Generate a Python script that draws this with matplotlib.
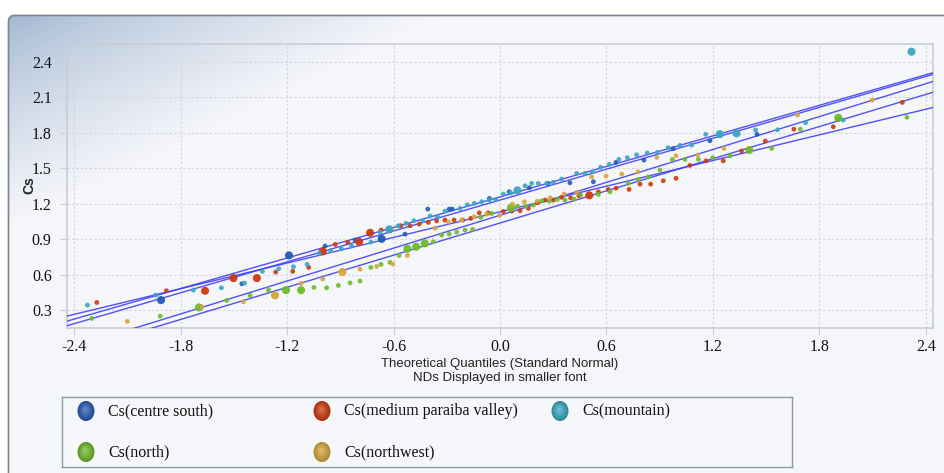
import numpy as np
import matplotlib
matplotlib.use("Agg")
import matplotlib.pyplot as plt
from matplotlib.patches import FancyBboxPatch, Ellipse
from matplotlib.colors import to_rgb

W, H, DPI = 945, 473, 100

# ---- series: theoretical quantile (z), concentration (y), detect flag (1 = detect, 0 = ND)
cs_z = [-1.91, -1.455, -1.189, -0.986, -0.817, -0.667, -0.535, -0.407, -0.286, -0.269,
        -0.06, 0.052, 0.165, 0.27, 0.394, 0.526, 0.654, 0.811, 0.976, 1.183, 1.448, 1.906]
cs_y = [0.384, 0.522, 0.762, 0.841, 0.892, 0.902, 0.942, 1.154, 1.154, 1.154,
        1.244, 1.30, 1.334, 1.371, 1.376, 1.385, 1.549, 1.568, 1.664, 1.732, 1.786, 1.91]
cs_d = [1, 0, 1, 0, 0, 1, 0, 0, 0, 0,
        0, 0, 0, 0, 0, 0, 0, 0, 0, 0, 0, 0]

mp_z = [-2.272, -1.88, -1.662, -1.502, -1.37, -1.264, -1.168, -1.078, -0.999, -0.928,
        -0.858, -0.794, -0.732, -0.670, -0.616, -0.559, -0.507, -0.455, -0.404, -0.357,
        -0.31, -0.259, -0.21, -0.165, -0.117, -0.066, 0.019, 0.066, 0.113, 0.16,
        0.21, 0.254, 0.30, 0.348, 0.398, 0.445, 0.503, 0.554, 0.61, 0.654,
        0.727, 0.789, 0.849, 0.920, 0.992, 1.07, 1.161, 1.258, 1.361, 1.495,
        1.656, 1.878, 2.267]
mp_y = [0.364, 0.463, 0.463, 0.570, 0.570, 0.621, 0.627, 0.660, 0.796, 0.855,
        0.872, 0.877, 0.953, 0.976, 0.976, 1.013, 1.013, 1.027, 1.041, 1.055,
        1.061, 1.061, 1.061, 1.075, 1.122, 1.122, 1.134, 1.137, 1.14, 1.16,
        1.207, 1.23, 1.23, 1.253, 1.249, 1.267, 1.27, 1.30, 1.32, 1.33,
        1.32, 1.365, 1.365, 1.393, 1.414, 1.523, 1.562, 1.562, 1.645, 1.729,
        1.83, 1.85, 2.056]
mp_d = [0, 0, 1, 1, 1, 0, 0, 0, 1, 0,
        0, 1, 1, 0, 0, 0, 0, 0, 0, 0,
        0, 0, 0, 0, 0, 0, 0, 0, 0, 0,
        0, 0, 0, 0, 0, 0, 1, 0, 0, 0,
        0, 0, 0, 0, 0, 0, 0, 0, 0, 0,
        0, 0, 0]

mt_z = [-2.325, -1.94, -1.728, -1.57, -1.44, -1.339, -1.247, -1.164, -1.087, -1.018,
        -0.954, -0.894, -0.836, -0.727, -0.676, -0.624, -0.573, -0.530, -0.485, -0.436,
        -0.394, -0.353, -0.31, -0.225, -0.184, -0.145, -0.103, -0.06, -0.024, 0.019,
        0.06, 0.098, 0.141, 0.178, 0.216, 0.263, 0.30, 0.348, 0.432, 0.479,
        0.52, 0.567, 0.616, 0.670, 0.717, 0.770, 0.830, 0.886, 0.948, 1.014,
        1.08, 1.159, 1.239, 1.333, 1.44, 1.564, 1.722, 1.934, 2.319]
mt_y = [0.342, 0.426, 0.468, 0.488, 0.528, 0.627, 0.649, 0.666, 0.686, 0.779,
        0.801, 0.818, 0.841, 0.875, 0.959, 0.982, 1.013, 1.033, 1.055, 1.055,
        1.095, 1.089, 1.137, 1.16, 1.19, 1.202, 1.216, 1.23, 1.236, 1.281,
        1.29, 1.312, 1.351, 1.371, 1.371, 1.371, 1.38, 1.408, 1.456, 1.456,
        1.469, 1.507, 1.532, 1.574, 1.588, 1.613, 1.628, 1.633, 1.673, 1.693,
        1.695, 1.786, 1.788, 1.794, 1.822, 1.825, 1.884, 1.907, 2.485]
mt_d = [0, 0, 0, 0, 0, 0, 0, 0, 0, 0,
        0, 0, 0, 0, 0, 1, 0, 0, 0, 0,
        0, 0, 0, 0, 0, 0, 0, 0, 0, 0,
        0, 1, 0, 0, 0, 0, 0, 0, 0, 0,
        0, 0, 0, 0, 0, 0, 0, 0, 0, 0,
        0, 0, 1, 1, 0, 0, 0, 0, 1]

no_z = [-2.30, -1.915, -1.696, -1.54, -1.408, -1.305, -1.206, -1.121, -1.048, -0.977,
        -0.911, -0.845, -0.789, -0.728, -0.670, -0.620, -0.569, -0.522, -0.473, -0.424,
        -0.376, -0.329, -0.286, -0.244, -0.197, -0.154, -0.109, -0.047, 0.062, 0.098,
        0.146, 0.188, 0.235, 0.278, 0.323, 0.366, 0.417, 0.455, 0.554, 0.62,
        0.723, 0.779, 0.836, 0.901, 0.971, 1.042, 1.118, 1.199, 1.296, 1.405,
        1.531, 1.692, 1.906, 2.293]
no_y = [0.229, 0.249, 0.322, 0.381, 0.424, 0.468, 0.468, 0.468, 0.491, 0.488,
        0.508, 0.530, 0.545, 0.660, 0.686, 0.703, 0.762, 0.818, 0.835, 0.864,
        0.877, 0.934, 0.942, 0.959, 0.976, 0.982, 1.084, 1.117, 1.165, 1.179,
        1.179, 1.188, 1.224, 1.221, 1.236, 1.23, 1.238, 1.272, 1.278, 1.30,
        1.371, 1.405, 1.427, 1.484, 1.574, 1.574, 1.574, 1.588, 1.605, 1.653,
        1.667, 1.83, 1.926, 1.93]
no_d = [0, 0, 1, 0, 0, 0, 1, 1, 0, 0,
        0, 0, 0, 0, 0, 0, 0, 1, 1, 1,
        0, 0, 0, 0, 0, 0, 0, 0, 1, 0,
        0, 0, 0, 0, 0, 0, 0, 0, 0, 0,
        0, 0, 0, 0, 0, 0, 0, 0, 0, 1,
        0, 0, 1, 0]

nw_z = [-2.10, -1.68, -1.446, -1.268, -1.121, -0.999, -0.888, -0.789, -0.695, -0.604,
        -0.522, -0.366, -0.291, -0.216, -0.145, -0.075, -0.004, 0.07, 0.137, 0.21,
        0.282, 0.361, 0.432, 0.516, 0.597, 0.686, 0.779, 0.883, 0.992, 1.114,
        1.262, 1.677, 2.097]
nw_y = [0.204, 0.327, 0.370, 0.424, 0.525, 0.562, 0.621, 0.646, 0.669, 0.689,
        0.762, 0.991, 1.044, 1.061, 1.089, 1.112, 1.10, 1.196, 1.216, 1.22,
        1.249, 1.281, 1.295, 1.427, 1.433, 1.45, 1.469, 1.591, 1.605, 1.611,
        1.667, 1.949, 2.076]
nw_d = [0, 0, 0, 1, 0, 0, 1, 0, 0, 0,
        0, 0, 0, 0, 0, 0, 0, 0, 0, 0,
        0, 0, 0, 0, 0, 0, 0, 0, 0, 0,
        0, 0, 0]

labels = ["Cs(centre south)", "Cs(medium paraiba valley)", "Cs(mountain)",
          "Cs(north)", "Cs(northwest)"]
colors = ["#2459b5", "#cc3a0c", "#3aa6c0", "#6cbb2a", "#d8a43c"]
# fitted normal reference lines: value = mean + sd * z
line_mean = [1.230, 1.131, 1.2565, 1.036, 1.1015]
line_sd = [0.4357, 0.3615, 0.4305, 0.4533, 0.4637]

series = [(cs_z, cs_y, cs_d), (mp_z, mp_y, mp_d), (mt_z, mt_y, mt_d),
          (no_z, no_y, no_d), (nw_z, nw_y, nw_d)]

x_ticks = [-2.4, -1.8, -1.2, -0.6, 0.0, 0.6, 1.2, 1.8, 2.4]
y_ticks = [0.3, 0.6, 0.9, 1.2, 1.5, 1.8, 2.1, 2.4]

fig = plt.figure(figsize=(W / DPI, H / DPI), dpi=DPI, facecolor="white")

# ---- panel background with soft corner gradient
bg = fig.add_axes([0, 0, 1, 1], zorder=-5)
bg.set_xlim(0, W)
bg.set_ylim(H, 0)
bg.axis("off")
yy, xx = np.mgrid[0:H, 0:W]
t = np.clip((xx - 8) / 430.0 + (yy - 15) / 210.0, 0, 1)
t = t ** 0.75
c0 = np.array([0x9f, 0xb5, 0xd0]) / 255.0
c1 = np.array([0xf5, 0xf6, 0xfa]) / 255.0
img = c0[None, None, :] * (1 - t[..., None]) + c1[None, None, :] * t[..., None]
panel = FancyBboxPatch((8.5, 15.5), 1000, 600,
                       boxstyle="round,pad=0,rounding_size=6",
                       facecolor="none", edgecolor="#7d848e", linewidth=1.2, zorder=3)
bg.add_patch(panel)
im = bg.imshow(img, extent=(0, W, H, 0), interpolation="bilinear", zorder=1)
im.set_clip_path(panel)

# ---- main plot
L, R, T, B = 67, 933, 44, 328
ax = fig.add_axes([L / W, 1 - B / H, (R - L) / W, (B - T) / H])
ax.patch.set_alpha(0)
ax.set_xlim(-2.44, 2.44)
ax.set_ylim(0.148, 2.55)
for s in ax.spines.values():
    s.set_color("#c9ccd3")
    s.set_linewidth(1.2)
ax.set_xticks(x_ticks)
ax.set_yticks(y_ticks)
ax.set_xticklabels([f"{v:.1f}" for v in x_ticks])
ax.set_yticklabels([f"{v:.1f}" for v in y_ticks])
ax.tick_params(axis="both", colors="#cfcfcf", length=5, width=0.8,
               labelcolor="#111111", labelsize=11.5)
for lab in ax.get_xticklabels() + ax.get_yticklabels():
    lab.set_fontfamily("Liberation Serif")
ax.tick_params(axis="x", pad=3)
ax.tick_params(axis="y", pad=6)
ax.grid(True, color="#d2d4d8", linestyle=(0, (2, 2)), linewidth=0.8)
ax.set_axisbelow(True)

zline = np.array([-2.44, 2.44])
for m, sd in zip(line_mean, line_sd):
    ax.plot(zline, m + sd * zline, color="#3f3fff", linewidth=1.0, alpha=0.9, zorder=3)

for (z, y, d), col in zip(series, colors):
    z = np.asarray(z)
    y = np.asarray(y)
    d = np.asarray(d, dtype=bool)
    ax.scatter(z[~d], y[~d], s=12, color=col, edgecolors="none", alpha=0.9, zorder=4)
    ax.scatter(z[d], y[d], s=34, color=col, edgecolors="none", alpha=0.95, zorder=4)

# axis titles
fig.text(29 / W, 1 - 185 / H, "Cs", rotation=90, ha="center", va="center",
         fontsize=10, fontweight="bold", family="Liberation Sans", color="#222222")
fig.text(500 / W, 1 - 364 / H, "Theoretical Quantiles (Standard Normal)",
         ha="center", va="center", fontsize=9.5, family="Liberation Sans", color="#222222")
fig.text(500 / W, 1 - 378 / H, "NDs Displayed in smaller font",
         ha="center", va="center", fontsize=9.5, family="Liberation Sans", color="#222222")

# ---- legend box with shaded oval swatches
lx0, ly0, lx1, ly1 = 62, 397, 792, 467
lg = fig.add_axes([lx0 / W, 1 - ly1 / H, (lx1 - lx0) / W, (ly1 - ly0) / H])
lg.set_xlim(lx0, lx1)
lg.set_ylim(ly1, ly0)
lg.set_xticks([])
lg.set_yticks([])
lg.patch.set_facecolor("#f6f7fb")
for s in lg.spines.values():
    s.set_color("#8c9aa8")
    s.set_linewidth(1.0)
slots = [(86, 411), (322, 411), (560, 411), (86, 452), (322, 452)]
for (mx, my), col, lab in zip(slots, colors, labels):
    base = np.array(to_rgb(col))
    n = 10
    for k in range(n):
        f = 1 - k / n
        u = k / (n - 1)
        shade = base * (0.82 + 0.18 * u) + (1 - base) * 0.28 * u
        lg.add_patch(Ellipse((mx - 1.0 * (1 - f), my - 2.0 * (1 - f)),
                             17 * f, 20 * f, facecolor=np.clip(shade, 0, 1),
                             edgecolor="none", zorder=2 + k))
    lg.text(mx + 22, my, lab, ha="left", va="center", fontsize=11.5,
            family="Liberation Serif", color="#111111")

fig.savefig("out.png", dpi=DPI, facecolor="white")
